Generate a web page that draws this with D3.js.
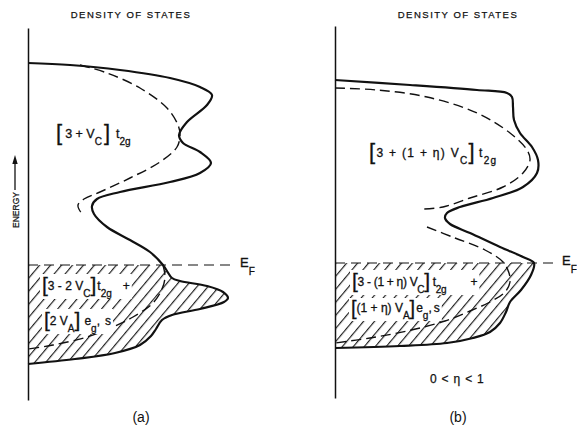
<!DOCTYPE html>
<html>
<head>
<meta charset="utf-8">
<script src="https://cdn.jsdelivr.net/npm/d3@7/dist/d3.min.js"></script>
<style>
  html, body { margin: 0; padding: 0; background: #fff; }
  svg { display: block; opacity: 0.995; }
  text { font-family: "Liberation Sans", Arial, sans-serif; fill: #111; white-space: pre; }
</style>
</head>
<body>
<svg id="chart" width="577" height="429"></svg>
<script>
// Density-of-states curves: [density, energy] pairs, energy measured from E_F.
const solidA = [[0,101],[21,100],[46,97.5],[71,93.5],[86,89],[92,85],[89.5,80],[79.5,71.5],[75.5,65],[77.5,61],[86,56.5],[91.5,51],[86,46],[71,41.5],[46,36.5],[34.5,33],[32,29.5],[33,25.5],[39.5,19],[51,12.5],[61,6.5],[67.5,0],[69.5,-3],[72,-6.5],[76,-8],[89.5,-10.5],[97.5,-13.5],[100,-16.5],[98,-18.5],[86,-22],[72,-25],[67,-27.5],[64,-32],[61.5,-35.5],[56,-40],[43.5,-44],[23.5,-47],[0,-49.5]];
const dashedUpperA = [[26,100],[39.5,96],[56,88.5],[69.5,78.5],[75,70],[76,65],[74.5,59],[66,51.5],[51,43.5],[36,36.5],[28,33],[25,30],[26,27],[27.5,25.5]];
const dashedLowerA = [[67.5,0],[68.5,-6],[67,-12],[62.5,-19],[52.5,-26],[42.5,-31],[29.5,-36],[12.5,-40],[0,-42]];

const solidB = [[0,91.5],[37.5,89],[71,86.5],[86,85],[88.5,83],[89,78],[89.5,71.5],[92.5,65],[98.5,58],[101.5,51.5],[101,45],[94,38],[79,32.5],[62.5,28],[56,25],[55,22.5],[57.5,19.5],[67.5,15],[82.5,8],[94,3],[99.5,0],[98,-6],[93,-13.5],[87.5,-19.5],[85.5,-24.5],[82.5,-30],[77.5,-34.5],[69,-37.5],[56,-40],[32.5,-41.5],[0,-42.5]];
const dashedUpperB = [[0,87.5],[21,86.5],[46,83],[71,75],[87.5,65],[96,56.5],[97.5,51.5],[94,45],[84,38],[67.5,32.5],[54,28],[44,27]];
const dashedLowerB = [[46,18],[60,12.5],[75,6.5],[84,0.5],[87,-5],[87.5,-9.5],[85,-14.5],[77.5,-19.5],[67.5,-24],[55,-29],[36,-34],[17.5,-37.5],[0,-40]];

// Extent of the energy axis and of the dashed Fermi-level line
const energyExtent = [-67.5, 118.5];
const fermiLineEnd = { a: 103.5, b: 111 };

// Label text, split into runs: [text, font size, baseline shift, dx]
const labelsA = [
  { x: 56, y: 138, ls: 0, parts: [["[",22,2,0],["3 + V",12.5,0,3],["C",10,7,0],["]",22,2,2],["t",12.5,0,6],["2g",10,7,0]] },
  { x: 42, y: 290, ls: 0, parts: [["[",21,2,0],["3 - 2 V",12,0,0],["C",10,7,0],["]",21,2,0],["t",12,0,1],["2g",10,7,0],["+",12,0,11]] },
  { x: 44, y: 325, ls: 0, parts: [["[",21,2,0],["2 V",12,0,0],["A",10,7,0],["]",21,2,0],["e",12,0,4],["g",10,7,0],[",",12,0,0],["s",12,0,5]] }
];
const labelsB = [
  { x: 369, y: 157, ls: 1.3, parts: [["[",22,2,0],["3 + (1 + η) V",12,0,0],["C",10,7,0],["]",22,2,0],["t",12,0,3],["2g",10,7,0]] },
  { x: 351, y: 286, ls: -0.3, parts: [["[",21,2,1],["3 - (1 + η) V",12,0,0],["C",10,7,0],["]",21,2,0],["t",12,0,3],["2g",10,7,0],["+",12,0,24]] },
  { x: 351, y: 312, ls: 0, parts: [["[",20,3,0],["(1 + η) V",12,0,0],["A",10,7,0],["]",20,3,0],["e",12,0,1],["g",10,7,0],[",",12,0,0],["s",12,0,2]] }
];
const titleText = "DENSITY OF STATES";
const axisTitle = "ENERGY";
const panelCaptions = ["(a)", "(b)"];
const etaRange = "0 < η < 1";

const svg = d3.select("#chart");
const ink = "#111";

const dos = d3.scaleLinear().domain([0, 100]).range([0, 200]);
const energy = d3.scaleLinear().domain(energyExtent).range([135, -237]);

const line = d3.line()
  .x(d => dos(d[0]))
  .y(d => energy(d[1]))
  .curve(d3.curveCatmullRom.alpha(0.5));

// Hatch pattern for the occupied states
const defs = svg.append("defs");
defs.append("pattern")
  .attr("id", "hatch")
  .attr("patternUnits", "userSpaceOnUse")
  .attr("width", 8.4).attr("height", 8.4)
  .attr("patternTransform", "rotate(40)")
  .append("line")
  .attr("x1", 0.6).attr("y1", -2).attr("x2", 0.6).attr("y2", 11)
  .attr("stroke", ink).attr("stroke-width", 1.1);

function richText(parent, x, y, parts, extra) {
  const t = parent.append("text").attr("x", x).attr("y", y);
  if (extra) extra(t);
  let prev = 0;
  parts.forEach(([s, size, shift, dx]) => {
    t.append("tspan")
      .attr("font-size", size)
      .attr("dx", dx || 0)
      .attr("dy", shift - prev)
      .text(s);
    prev = shift;
  });
  return t;
}

function drawPanel(key, ox, oy, solid, dashedUpper, dashedLower, efEnd) {
  const g = svg.append("g").attr("transform", `translate(${ox},${oy})`);

  // Shaded region: inside the solid curve and below E_F
  defs.append("clipPath").attr("id", "curve-" + key)
    .append("path").attr("d", line(solid) + "Z");
  defs.append("clipPath").attr("id", "below-" + key)
    .append("rect")
    .attr("x", 0).attr("y", energy(0))
    .attr("width", 300).attr("height", energy(energyExtent[0]) - energy(0));
  g.append("g").attr("clip-path", `url(#below-${key})`)
    .append("rect")
    .attr("clip-path", `url(#curve-${key})`)
    .attr("x", 0).attr("y", energy(energyExtent[1]))
    .attr("width", 300).attr("height", energy(energyExtent[0]) - energy(energyExtent[1]))
    .attr("fill", "url(#hatch)");

  // Energy axis (no ticks)
  const ax = g.append("g").call(d3.axisLeft(energy).tickValues([]).tickSizeOuter(0));
  ax.select(".domain").attr("stroke", ink).attr("stroke-width", 1.5);

  // Fermi level
  g.append("line")
    .attr("x1", dos(0)).attr("x2", dos(efEnd))
    .attr("y1", energy(0)).attr("y2", energy(0))
    .attr("stroke", ink).attr("stroke-width", 1.2)
    .attr("stroke-dasharray", "10,6");

  g.append("path").attr("d", line(dashedUpper))
    .attr("fill", "none").attr("stroke", ink).attr("stroke-width", 1.4)
    .attr("stroke-dasharray", "10,5");
  g.append("path").attr("d", line(dashedLower))
    .attr("fill", "none").attr("stroke", ink).attr("stroke-width", 1.4)
    .attr("stroke-dasharray", "10,5");
  g.append("path").attr("d", line(solid))
    .attr("fill", "none").attr("stroke", ink).attr("stroke-width", 2.2)
    .attr("stroke-linejoin", "round");

  // E_F label
  richText(svg, ox + dos(efEnd) + 5, oy + energy(0) + 2, [["E",13,0,0],["F",10,8,0]],
    s => s.attr("stroke", ink).attr("stroke-width", 0.3));
}

drawPanel("a", 28, 265, solidA, dashedUpperA, dashedLowerA, fermiLineEnd.a);
drawPanel("b", 335, 263, solidB, dashedUpperB, dashedLowerB, fermiLineEnd.b);

// Band labels with a white ground so the hatching stops around them
const groundLayer = svg.append("g");
const labelLayer = svg.append("g");
labelsA.concat(labelsB).forEach(l => {
  const t = richText(labelLayer, l.x, l.y, l.parts,
    s => s.attr("letter-spacing", l.ls).attr("stroke", ink).attr("stroke-width", 0.3));
  const bb = t.node().getBBox();
  groundLayer.append("rect")
    .attr("x", bb.x - 2).attr("y", bb.y + 1)
    .attr("width", bb.width + 4).attr("height", bb.height - 1)
    .attr("fill", "#fff");
});

// Titles
[[131, titleText], [458, titleText]].forEach(([cx, s]) => {
  svg.append("text").attr("x", cx).attr("y", 17.5)
    .attr("text-anchor", "middle").attr("font-size", 9.5)
    .attr("letter-spacing", 1.5)
    .attr("stroke", ink).attr("stroke-width", 0.25)
    .text(s);
});

// Energy axis title with upward arrow
svg.append("text")
  .attr("transform", "translate(18.5,210) rotate(-90)")
  .attr("text-anchor", "middle").attr("font-size", 8.5)
  .attr("stroke", ink).attr("stroke-width", 0.25)
  .text(axisTitle);
svg.append("line").attr("x1", 15).attr("x2", 15).attr("y1", 190).attr("y2", 162)
  .attr("stroke", ink).attr("stroke-width", 1.3);
svg.append("path").attr("d", "M15,155 L12.3,164 L17.7,164 Z").attr("fill", ink);

// Captions
svg.append("text").attr("x", 141).attr("y", 422).attr("text-anchor", "middle")
  .attr("font-size", 14).text(panelCaptions[0]);
svg.append("text").attr("x", 458).attr("y", 422).attr("text-anchor", "middle")
  .attr("font-size", 14).text(panelCaptions[1]);
svg.append("text").attr("x", 430).attr("y", 383).attr("font-size", 12)
  .attr("letter-spacing", 0.8).attr("stroke", ink).attr("stroke-width", 0.25)
  .text(etaRange);
</script>
</body>
</html>
